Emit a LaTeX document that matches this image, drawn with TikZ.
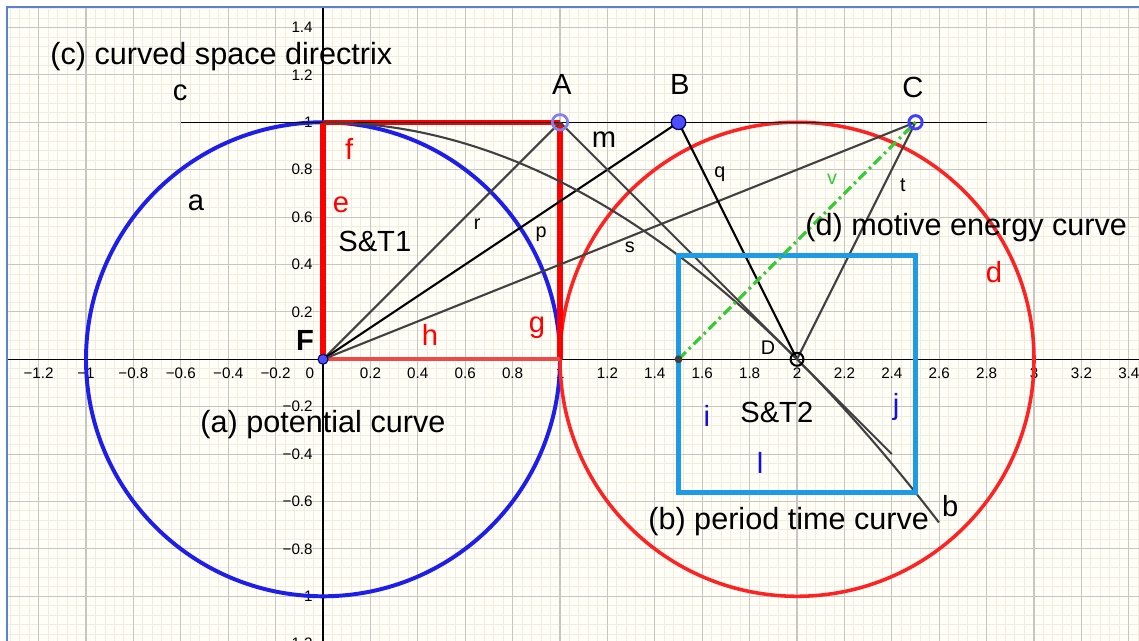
\documentclass[tikz,border=0pt]{standalone}
\usepackage{fontspec}
\setmainfont{Liberation Sans}
\definecolor{bgcream}{HTML}{FFFEF7}
\definecolor{gridmajor}{HTML}{C9C5C0}
\definecolor{gridminor}{HTML}{F3EAE2}
\definecolor{borderblue}{HTML}{5A82D2}
\definecolor{circblue}{HTML}{1E1EEB}
\definecolor{circred}{HTML}{FF2222}
\definecolor{sqred}{HTML}{FF0000}
\definecolor{hred}{HTML}{F04848}
\definecolor{sqblue}{HTML}{1E9BE6}
\definecolor{linegray}{HTML}{404040}
\definecolor{vgreen}{HTML}{33CC33}
\definecolor{ptblue}{HTML}{4D4DFF}
\definecolor{ringA}{HTML}{8080F0}
\definecolor{ringC}{HTML}{3F3FFF}
\definecolor{labblue}{HTML}{1010E0}
\begin{document}
\begin{tikzpicture}[x=4cm,y=4cm,
  biglab/.style={font=\fontsize{14}{16}\selectfont, inner sep=0pt, anchor=base},
  smalllab/.style={font=\fontsize{9.5}{11}\selectfont, inner sep=0pt, anchor=base},
  titlelab/.style={font=\fontsize{14.7}{17}\selectfont, inner sep=0pt, anchor=base west},
  axlab/.style={font=\fontsize{7.3}{8}\selectfont, inner sep=0pt},
  graysegment/.style={linegray, line width=1pt},
  blacksegment/.style={black, line width=1pt},
  redside/.style={sqred, line width=2.5pt},
  blueside/.style={sqblue, line width=2.4pt},
  dotpt/.style={circle, inner sep=0pt}
]
\useasboundingbox (-1.3629,-1.1886) rectangle (3.443,1.516);
\fill[white] (-1.3629,-1.1886) rectangle (3.443,1.516);
\begin{scope}
\clip (-1.3333,-1.1886) rectangle (3.443,1.4865);
\fill[bgcream] (-1.3333,-1.1886) rectangle (3.443,1.4865);
\draw[gridminor, line width=0.45pt, step=0.04] (-1.4,-1.24) grid (3.48,1.52);
\draw[gridmajor, line width=0.55pt, step=0.2] (-1.4,-1.2) grid (3.48,1.6);
% axes
\draw[black, line width=0.5pt] (-1.4,0) -- (3.5,0);
\draw[black, line width=0.5pt] (0,-1.3) -- (0,1.6);
% x axis labels
\foreach \v/\t in {-1.2/−1.2,-1/−1,-0.8/−0.8,-0.6/−0.6,-0.4/−0.4,-0.2/−0.2,0.2/0.2,0.4/0.4,0.6/0.6,0.8/0.8,1/1,1.2/1.2,1.4/1.4,1.6/1.6,1.8/1.8,2/2,2.2/2.2,2.4/2.4,2.6/2.6,2.8/2.8,3/3,3.2/3.2,3.4/3.4}
  \node[axlab, anchor=base] at (\v,-0.079) {\t};
\node[axlab, anchor=base] at (-0.055,-0.079) {0};
% y axis labels
\foreach \v/\t in {1.4/1.4,1.2/1.2,1/1,0.8/0.8,0.6/0.6,0.4/0.4,0.2/0.2,-0.2/−0.2,-0.4/−0.4,-0.6/−0.6,-0.8/−0.8,-1/−1,-1.2/−1.2}
  \node[axlab, anchor=east] at (-0.042,\v) {\t};
% coordinates
\coordinate (F) at (0,0);
\coordinate (A) at (1,1);
\coordinate (B) at (1.5,1);
\coordinate (C) at (2.5,1);
\coordinate (D) at (2,0);
\coordinate (E) at (1.5,0);
\coordinate (Ctl) at (0,1);
\coordinate (Cg) at (1,0);
\coordinate (cL) at (-0.6,1);
\coordinate (cR) at (2.8,1);
\coordinate (mEnd) at (2.4,-0.4);
\coordinate (Q1) at (1.5,0.4375);
\coordinate (Q2) at (2.5,0.4375);
\coordinate (Q3) at (2.5,-0.5625);
\coordinate (Q4) at (1.5,-0.5625);
% circles a and d
\draw[circblue, line width=1.9pt] (F) circle (1);
\draw[circred, line width=1.7pt] (D) circle (1);
% red square S&T1
\draw[redside] (F) -- (Ctl);
\draw[redside] (Ctl) -- (A);
\draw[redside] (A) -- (Cg);
\draw[hred, line width=2pt] (F) -- (Cg);
% directrix c
\draw[black, line width=0.75pt] (cL) -- (cR);
% segments
\draw[graysegment] (F) -- (A);
\draw[blacksegment] (F) -- (B);
\draw[graysegment] (F) -- (C);
\draw[blacksegment] (B) -- (D);
\draw[graysegment] (C) -- (D);
\draw[graysegment] (A) -- (mEnd);
% parabola b
\draw[graysegment, domain=0:2.6, samples=80, smooth] plot (\x, {1-\x*\x/4});
% blue square S&T2
\draw[blueside, line join=miter] (Q1) -- (Q2) -- (Q3) -- (Q4) -- cycle;
% green v
\draw[vgreen, line width=1.5pt, dash pattern=on 5pt off 2pt on 1.2pt off 2pt] (E) -- (C);
% points
\node[dotpt, fill=ptblue, draw=black!70!blue, line width=0.5pt, minimum size=4.8pt] (Fp) at (F) {};
\node[dotpt, draw=ringA, line width=1.3pt, minimum size=7.4pt] (Ap) at (A) {};
\node[dotpt, fill=ptblue, draw=black!60!blue, line width=0.6pt, minimum size=7pt] (Bp) at (B) {};
\node[dotpt, draw=ringC, line width=1.4pt, minimum size=6.4pt] (Cp) at (C) {};
\node[dotpt, draw=black, line width=1pt, minimum size=6.2pt] (Dp) at (D) {};
\node[dotpt, fill=linegray, minimum size=3.8pt] (Ep) at (E) {};
% labels
\node[titlelab] (tc) at (-1.152,1.242) {(c) curved space directrix};
\node[titlelab] (td) at (2.034,0.524) {(d) motive energy curve};
\node[titlelab] (ta) at (-0.519,-0.311) {(a) potential curve};
\node[titlelab] (tb) at (1.371,-0.720) {(b) period time curve};
\node[biglab] (lc) at (-0.603,1.094) {c};
\node[biglab] (la) at (-0.536,0.626) {a};
\node[biglab, sqred] (lf) at (0.110,0.841) {f};
\node[biglab, sqred] (le) at (0.076,0.621) {e};
\node[biglab, anchor=base west] (st1) at (0.063,0.453) {S\&T1};
\node[biglab] (lA) at (1.008,1.119) {A};
\node[biglab] (lB) at (1.506,1.119) {B};
\node[biglab] (lC) at (2.489,1.106) {C};
\node[biglab] (lm) at (1.186,0.892) {m};
\node[biglab, sqred] (ld) at (2.831,0.326) {d};
\node[biglab, font=\fontsize{14}{16}\selectfont\bfseries] (lF) at (-0.076,0.035) {F};
\node[biglab, sqred] (lh) at (0.451,0.060) {h};
\node[biglab, sqred] (lg) at (0.903,0.115) {g};
\node[biglab, labblue] (li) at (1.620,-0.285) {i};
\node[biglab, anchor=base west] (st2) at (1.759,-0.265) {S\&T2};
\node[biglab, labblue] (lj) at (2.418,-0.231) {j};
\node[biglab, labblue] (ll) at (1.844,-0.484) {l};
\node[biglab] (lb) at (2.646,-0.665) {b};
\node[smalllab] (lr) at (0.650,0.546) {r};
\node[smalllab] (lp) at (0.920,0.512) {p};
\node[smalllab] (ls) at (1.295,0.449) {s};
\node[smalllab] (lq) at (1.675,0.769) {q};
\node[smalllab] (lt) at (2.447,0.706) {t};
\node[smalllab, vgreen] (lv) at (2.148,0.736) {v};
\node[smalllab] (lD) at (1.878,0.022) {D};
\end{scope}
\draw[borderblue, line width=0.8pt] (-1.3333,-1.1886) -- (-1.3333,1.4865) -- (3.443,1.4865);
\end{tikzpicture}
\end{document}
